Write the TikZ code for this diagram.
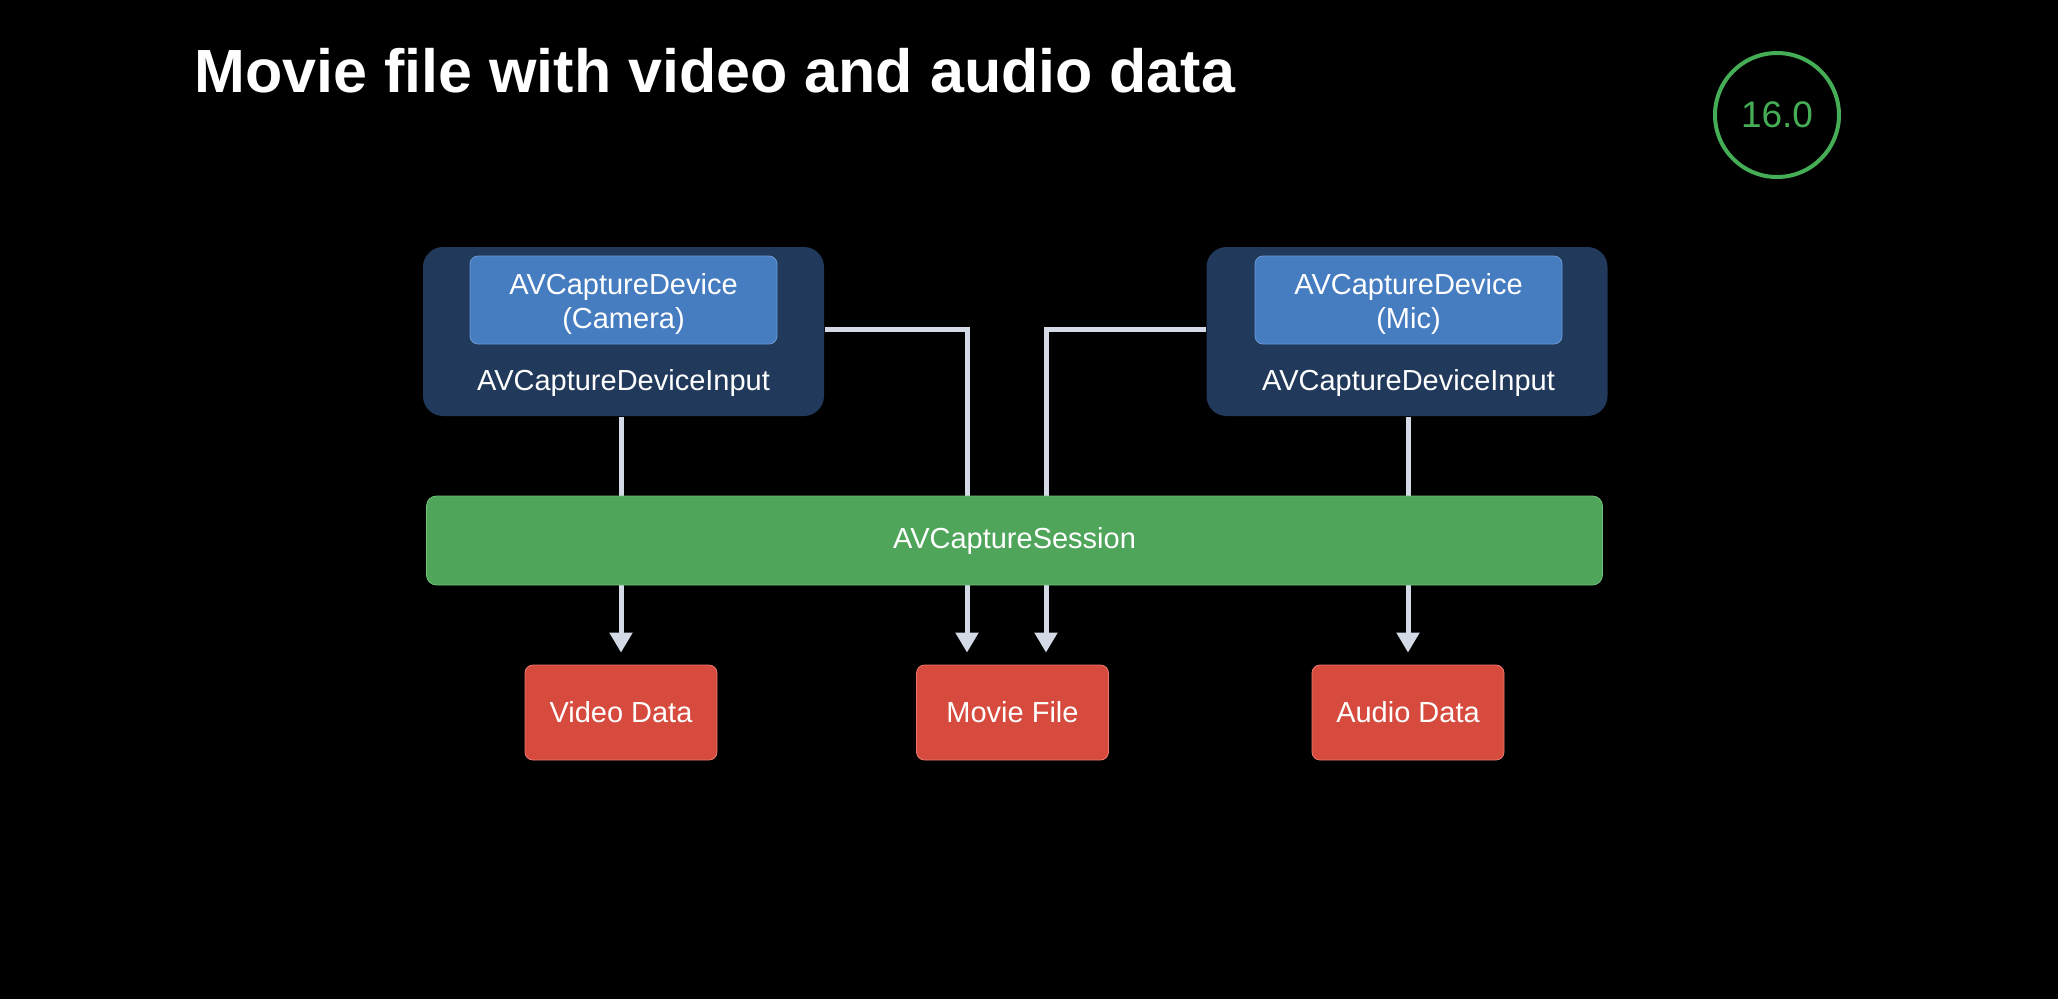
\documentclass[tikz,border=0pt]{standalone}
\usepackage{fontspec}
\setmainfont{Liberation Sans}
\usetikzlibrary{arrows.meta,positioning,backgrounds}
\definecolor{navy}{HTML}{213A5B}
\definecolor{devblue}{HTML}{467CC0}
\definecolor{devline}{HTML}{6A9AD6}
\definecolor{sessgreen}{HTML}{4FA55A}
\definecolor{sessline}{HTML}{72C27A}
\definecolor{outred}{HTML}{D64B3E}
\definecolor{redline}{HTML}{EA7A6E}
\definecolor{wiregray}{HTML}{D3DAE5}
\definecolor{badgegreen}{HTML}{45AD55}

\begin{document}
\begin{tikzpicture}[x=0.5pt, y=-0.5pt, ->, >={Triangle[width=11pt,length=10pt]}, semithick]
\tikzstyle{devin}=[fill=navy,rounded corners=10pt,minimum width=200.5pt,minimum height=84.5pt]
\tikzstyle{dev}=[fill=devblue,draw=devline,thin,rounded corners=4pt,minimum width=153.5pt,minimum height=44pt]
\tikzstyle{devtxt}=[text=white,align=center,inner sep=0pt,font=\fontsize{14.5}{17}\selectfont]
\tikzstyle{lbl}=[text=white,inner sep=0pt,font=\fontsize{14.5}{17}\selectfont]
\tikzstyle{sess}=[fill=sessgreen,draw=sessline,thin,rounded corners=5pt,minimum width=588pt,minimum height=44.5pt,text=white,font=\fontsize{14.5}{17}\selectfont]
\tikzstyle{outbox}=[fill=outred,draw=redline,thin,rounded corners=4pt,minimum width=96pt,minimum height=47.5pt,text=white,font=\fontsize{14.5}{17}\selectfont]
\tikzstyle{wire}=[draw=wiregray,line width=2.5pt,shorten >=6pt]
\useasboundingbox (0,0) rectangle (2058,998);
\node[anchor=base west,inner sep=0pt,text=white,font=\fontsize{30.5}{36}\selectfont\bfseries] (title) at (194,92) {Movie file with video and audio data};
\node[circle,draw=badgegreen,line width=2pt,minimum size=62pt,inner sep=0pt,text=badgegreen,font=\fontsize{18.5}{22}\selectfont] (badge) at (1777,115) {16.0};
\node[devin]    (camIn)  at (623.5,331.5)   {};
\node[dev]      (camDev) at (623.5,300)     {};
\node[devtxt]   (camTxt) at (623.5,304)     {AVCaptureDevice\\(Camera)};
\node[lbl]      (camLbl) [below=12pt of camDev]  {AVCaptureDeviceInput};
\node[devin]    (micIn)  at (1407,331.5)    {};
\node[dev]      (micDev) at (1408.5,300)    {};
\node[devtxt]   (micTxt) at (1408.5,304)    {AVCaptureDevice\\(Mic)};
\node[lbl]      (micLbl) [below=12pt of micDev]  {AVCaptureDeviceInput};
\node[sess]     (sess)   at (1014.5,540.5)  {AVCaptureSession};
\node[outbox]   (video)  at (621,712.5)     {Video Data};
\node[outbox]   (movie)  at (1012.5,712.5)  {Movie File};
\node[outbox]   (audio)  at (1408,712.5)    {Audio Data};
\coordinate (camTurn) at (967,329);
\coordinate (micTurn) at (1046,329);
\begin{scope}[on background layer]
\fill[black] (-10,-10) rectangle (2068,1008);
\draw[wire] (camIn.south -| video.north) -- (video.north);
\draw[wire] (micIn.south -| audio.north) -- (audio.north);
\draw[wire] (camIn.east |- camTurn) -- (camTurn) -- (camTurn |- movie.north);
\draw[wire] (micIn.west |- micTurn) -- (micTurn) -- (micTurn |- movie.north);
\end{scope}
\end{tikzpicture}
\end{document}
